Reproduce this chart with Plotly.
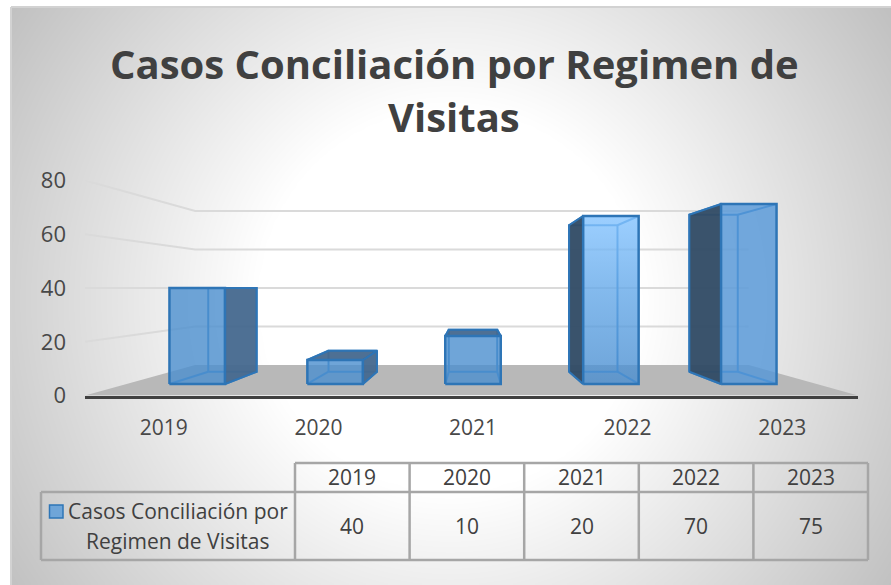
import numpy as np
import plotly.graph_objects as go

years = ["2019", "2020", "2021", "2022", "2023"]
casos = [40, 10, 20, 70, 75]
series_name = ["Casos Conciliación por", "Regimen de Visitas"]
title_lines = ["Casos Conciliación por Regimen de", "Visitas"]
y_ticks = [0, 20, 40, 60, 80]

W, H = 891, 585
FONT = "Open Sans"
TXT = "#404040"
TICK = "#484848"
S_FRONT, S_REAR, S_BACK = 0.892, 0.778, 0.716
HALF = 0.2012
LEFT_PX, RIGHT_PX, BASE_PX, TOP_PX = 85, 858, 395.6, 180.4
CAT_PX = 154.6
XR = [(LEFT_PX - 473) / CAT_PX + 2, (RIGHT_PX - 473) / CAT_PX + 2]


def proj(i, v, s):
    return 2 + (i - 2) * s, 40 + (v - 40) * s


fig = go.Figure()

# background radial gradient
gx = np.arange(11, 892, 8.0)
gy = np.arange(7, 586, 8.0)
X, Y = np.meshgrid(gx, gy)
R = np.hypot(X - 450, Y - 300)
Z = 255 - np.clip((R - 190) / 340, 0, 1) * 63
fig.add_trace(go.Heatmap(x=gx, y=gy, z=Z, zmin=0, zmax=255, zsmooth="best", showscale=False,
                         colorscale=[[0, "#000000"], [1, "#ffffff"]], hoverinfo="skip",
                         xaxis="x", yaxis="y"))


def poly(pts, fill=None, line=None, width=2, gradient=None):
    xs = [p[0] for p in pts]
    ys = [p[1] for p in pts]
    kw = {}
    if gradient:
        kw["fillgradient"] = gradient
        kw["fill"] = "toself"
    elif fill:
        kw["fill"] = "toself"
        kw["fillcolor"] = fill
    fig.add_trace(go.Scatter(x=xs, y=ys, mode="lines", showlegend=False, hoverinfo="skip",
                             line=dict(color=line or "rgba(0,0,0,0)", width=width if line else 0),
                             xaxis="x2", yaxis="y2", cliponaxis=False, **kw))


# floor
poly([proj(XR[0], 0, 1), proj(XR[0], 0, S_BACK), proj(XR[1], 0, S_BACK), proj(XR[1], 0, 1)], fill="#B8B8B8")

# wall gridlines
for v in y_ticks[1:]:
    poly([proj(XR[0], v, 1), proj(XR[0], v, S_BACK), proj(XR[1], v, S_BACK)], line="#DADADA", width=2)

EDGE = "#2E75B6"
INNER = "#3F86C8"
front_fill = ["rgba(75,142,206,0.8)", "rgba(75,142,206,0.8)", "rgba(75,142,206,0.8)", None, "rgba(82,150,216,0.8)"]
side_fill = ["rgba(68,104,142,0.95)", "rgba(68,104,142,0.95)", "rgba(68,104,142,0.95)",
             "rgba(50,76,102,0.96)", "rgba(50,76,102,0.96)"]

for i, v in enumerate(casos):
    a, b = i - HALF, i + HALF
    fbl, fbr, ftl, ftr = proj(a, 0, S_FRONT), proj(b, 0, S_FRONT), proj(a, v, S_FRONT), proj(b, v, S_FRONT)
    rbl, rbr, rtl, rtr = proj(a, 0, S_REAR), proj(b, 0, S_REAR), proj(a, v, S_REAR), proj(b, v, S_REAR)
    # see-through rear edges, drawn behind the faces
    poly([rbl, rbr, rtr, rtl, rbl], line=INNER, width=2)
    for p, q in [(fbl, rbl), (fbr, rbr), (ftl, rtl), (ftr, rtr)]:
        poly([p, q], line=INNER, width=2)
    # visible side
    if i < 2:
        poly([fbr, rbr, rtr, ftr, fbr], fill=side_fill[i], line=EDGE)
    elif i > 2:
        poly([fbl, rbl, rtl, ftl, fbl], fill=side_fill[i], line=EDGE)
    # top
    if v < 40:
        poly([ftl, ftr, rtr, rtl, ftl], fill=side_fill[i], line=EDGE)
    # front
    if front_fill[i]:
        poly([fbl, fbr, ftr, ftl, fbl], fill=front_fill[i])
    else:
        poly([fbl, fbr, ftr, ftl, fbl],
             gradient=dict(type="vertical", colorscale=[[0, "rgba(73,141,207,0.8)"], [0.55, "rgba(100,168,232,0.8)"],
                                                         [1, "rgba(131,195,255,0.8)"]]))
    # front edge
    poly([fbl, fbr, ftr, ftl, fbl], line=EDGE, width=2.5)


def px(x):
    return x / W


def py(y):
    return 1 - y / H


shapes = []


def seg(x0, y0, x1, y1, color="#A6A6A6", width=2.5):
    shapes.append(dict(type="line", xref="paper", yref="paper", x0=px(x0), y0=py(y0), x1=px(x1), y1=py(y1),
                       line=dict(color=color, width=width)))


# chart area border
seg(11, 7, 891, 7, "#D2D2D2", 2)
seg(11, 7, 11, 585, "#D2D2D2", 2)

# data table
T_X0, T_W = 295, 114.6
T_LEFT = 41
T_Y = [463, 492, 560]
n = len(years)
seg(T_X0, T_Y[0], T_X0 + n * T_W, T_Y[0])
seg(T_LEFT, T_Y[1], T_X0 + n * T_W, T_Y[1])
seg(T_LEFT, T_Y[2], T_X0 + n * T_W, T_Y[2])
seg(T_LEFT, T_Y[1], T_LEFT, T_Y[2])
for k in range(n + 1):
    seg(T_X0 + k * T_W, T_Y[0], T_X0 + k * T_W, T_Y[2])

# legend key
shapes.append(dict(type="rect", xref="paper", yref="paper", x0=px(49.5), x1=px(63), y0=py(518), y1=py(505),
                   fillcolor="#6FA5D8", line=dict(color=EDGE, width=1.5)))

ann = []


def label(x, y, text, size=21, bold=False):
    ann.append(dict(xref="paper", yref="paper", x=px(x), y=py(y), text=("<b>%s</b>" % text) if bold else text,
                    showarrow=False, xanchor="center", yanchor="middle",
                    font=dict(family=FONT, size=size, color=TXT)))


for k, (yr, v) in enumerate(zip(years, casos)):
    cx = T_X0 + (k + 0.5) * T_W
    label(cx, (T_Y[0] + T_Y[1]) / 2 - 1, yr)
    label(cx, (T_Y[1] + T_Y[2]) / 2, str(v))
label(178, 511, series_name[0])
label(177, 541, series_name[1])
label(454, 63, title_lines[0], size=40, bold=True)
label(454, 117, title_lines[1], size=40, bold=True)

fig.update_layout(
    width=W, height=H, margin=dict(l=0, r=0, t=0, b=0, pad=0, autoexpand=False), paper_bgcolor="white",
    plot_bgcolor="rgba(0,0,0,0)", showlegend=False, shapes=shapes, annotations=ann,
    xaxis=dict(domain=[11 / W, 1], range=[11, 891], visible=False),
    yaxis=dict(domain=[0, 1 - 7 / H], range=[585, 7], visible=False),
    xaxis2=dict(domain=[LEFT_PX / W, RIGHT_PX / W], range=XR, anchor="y2", tickvals=list(range(n)), ticktext=years,
                showgrid=False, zeroline=False, showline=True, linecolor="#404040", linewidth=3, ticks="",
                ticklabelstandoff=11, tickfont=dict(family=FONT, size=21, color=TICK)),
    yaxis2=dict(domain=[py(BASE_PX), py(TOP_PX)], range=[0, 80], anchor="x2", tickvals=y_ticks,
                showgrid=False, zeroline=False, showline=False, ticks="", ticklabelstandoff=18,
                tickfont=dict(family=FONT, size=22, color=TICK)),
)

fig.write_html("out.html", config={"displayModeBar": False},
               post_script="document.body.style.margin='0';document.body.style.overflow='hidden';")
